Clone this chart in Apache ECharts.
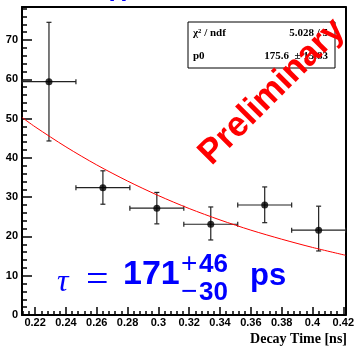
<!DOCTYPE html>
<html>
<head>
<meta charset="utf-8">
<script src="https://cdn.jsdelivr.net/npm/echarts@6/dist/echarts.min.js"></script>
<style>
  html, body { margin: 0; padding: 0; background: #fff; }
  #chart { width: 357px; height: 346px; }
</style>
</head>
<body>
<div id="chart"></div>
<script>
// decay time bins (ns)
const binCenters = [0.229, 0.264, 0.299, 0.334, 0.369, 0.404];
const binLow = [0.2115, 0.2465, 0.2815, 0.3165, 0.3515, 0.3865];
const binHigh = [0.2465, 0.2815, 0.3165, 0.3515, 0.3865, 0.4215];
const counts = [59.4, 32.4, 27.2, 23.1, 28.0, 21.6];
const countsUp = [74.5, 36.7, 31.2, 27.5, 32.6, 27.7];
const countsDown = [44.3, 28.2, 23.2, 19.1, 23.5, 16.3];

// fit curve
const fitX = [0.2115, 0.22, 0.24, 0.26, 0.28, 0.30, 0.32, 0.34, 0.36, 0.38, 0.40, 0.4215];
const fitY = [50.3, 47.9, 42.8, 38.2, 34.1, 30.4, 27.1, 24.2, 21.6, 19.3, 17.2, 15.2];

const xTickLabels = [0.22, 0.24, 0.26, 0.28, 0.30, 0.32, 0.34, 0.36, 0.38, 0.40, 0.42];
const xMinorTicks = [];
for (let i = 0; i <= 52; i++) xMinorTicks.push(+(0.212 + i * 0.004).toFixed(3));

const chart = echarts.init(document.getElementById("chart"));

const labelFont = { color: "#000", fontWeight: "bold", fontFamily: "Liberation Sans", fontSize: 11 };

const errData = binCenters.map((x, i) => [x, counts[i], binLow[i], binHigh[i], countsDown[i], countsUp[i]]);

const option = {
  animation: false,
  grid: { left: 22, right: 10, top: 7, bottom: 31 },
  xAxis: [
    {
      type: "value",
      min: 0.2115,
      max: 0.4215,
      position: "bottom",
      splitLine: { show: false },
      axisLine: { lineStyle: { color: "#000", width: 2 } },
      axisTick: { inside: true, length: 8, customValues: xTickLabels, lineStyle: { color: "#000", width: 1.5 } },
      axisLabel: Object.assign({ customValues: xTickLabels, margin: 2, formatter: (v) => String(+v.toFixed(2)) }, labelFont),
    },
    {
      type: "value",
      min: 0.2115,
      max: 0.4215,
      position: "bottom",
      splitLine: { show: false },
      axisLine: { show: false },
      axisTick: { inside: true, length: 4, customValues: xMinorTicks, lineStyle: { color: "#000", width: 1.5 } },
      axisLabel: { show: false },
    },
    {
      type: "value",
      min: 0.2115,
      max: 0.4215,
      position: "top",
      splitLine: { show: false },
      axisLine: { lineStyle: { color: "#000", width: 2 } },
      axisTick: { show: false },
      axisLabel: { show: false },
    },
  ],
  yAxis: [
    {
      type: "value",
      min: 0,
      max: 78.4,
      interval: 10,
      splitLine: { show: false },
      axisLine: { show: true, lineStyle: { color: "#000", width: 2 } },
      axisTick: { inside: true, length: 10, lineStyle: { color: "#000", width: 1.5 } },
      minorTick: { show: true, splitNumber: 5, length: 5, lineStyle: { color: "#000", width: 1.5 } },
      axisLabel: Object.assign({ margin: 4, showMaxLabel: false }, labelFont),
    },
    {
      type: "value",
      min: 0,
      max: 78.4,
      position: "right",
      splitLine: { show: false },
      axisLine: { show: true, lineStyle: { color: "#000", width: 2 } },
      axisTick: { show: false },
      axisLabel: { show: false },
    },
  ],
  series: [
    {
      type: "line",
      data: fitX.map((x, i) => [x, fitY[i]]),
      smooth: 0.3,
      symbol: "none",
      lineStyle: { color: "#ff0000", width: 1 },
      z: 4,
    },
    {
      type: "custom",
      data: errData,
      renderItem: function (params, api) {
        const y = api.value(1);
        const c = api.coord([api.value(0), y]);
        const l = api.coord([api.value(2), y]);
        const r = api.coord([api.value(3), y]);
        const b = api.coord([api.value(0), api.value(4)]);
        const t = api.coord([api.value(0), api.value(5)]);
        const cap = 2.5;
        const st = { stroke: "#222", lineWidth: 1.2 };
        const seg = (x1, y1, x2, y2) => ({ type: "line", shape: { x1, y1, x2, y2 }, style: st });
        return {
          type: "group",
          children: [
            seg(l[0], c[1], r[0], c[1]),
            seg(c[0], t[1], c[0], b[1]),
            seg(l[0], c[1] - cap, l[0], c[1] + cap),
            seg(r[0], c[1] - cap, r[0], c[1] + cap),
            seg(c[0] - cap, t[1], c[0] + cap, t[1]),
            seg(c[0] - cap, b[1], c[0] + cap, b[1]),
          ],
        };
      },
      z: 3,
    },
    {
      type: "scatter",
      data: binCenters.map((x, i) => [x, counts[i]]),
      symbol: "circle",
      symbolSize: 7,
      itemStyle: { color: "#000" },
      z: 5,
    },
  ],
  graphic: [
    {
      type: "text",
      left: 110,
      top: -18,
      style: { text: "Λ", fill: "#0000ff", font: "bold 24px Liberation Sans" },
    },
    {
      type: "rect",
      shape: { x: 188, y: 22, width: 147, height: 46 },
      style: { fill: "#fff", stroke: "#000", lineWidth: 1 },
      z: 100,
    },
    {
      type: "text",
      x: 193, y: 33,
      style: { text: "χ² / ndf", fill: "#000", font: "bold 11px Liberation Serif", verticalAlign: "middle" },
      z: 101,
    },
    {
      type: "text",
      x: 328, y: 33,
      style: { text: "5.028 / 5", fill: "#000", font: "bold 11px Liberation Serif", align: "right", verticalAlign: "middle" },
      z: 101,
    },
    {
      type: "text",
      x: 193, y: 56,
      style: { text: "p0", fill: "#000", font: "bold 11px Liberation Serif", verticalAlign: "middle" },
      z: 101,
    },
    {
      type: "text",
      x: 328, y: 56,
      style: { text: "175.6  ± 15.83", fill: "#000", font: "bold 11px Liberation Serif", align: "right", verticalAlign: "middle" },
      z: 101,
    },
    {
      type: "text",
      x: 272, y: 92,
      rotation: Math.PI / 4,
      style: { text: "Preliminary", fill: "#ff0000", font: "bold 35px Liberation Sans", align: "center", verticalAlign: "middle" },
      z: 110,
    },
    {
      type: "text",
      x: 57, y: 283,
      style: { text: "τ", fill: "#0000ff", font: "italic 32px Liberation Serif", verticalAlign: "middle" },
      z: 100,
    },
    {
      type: "text",
      x: 86, y: 281,
      style: { text: "=", fill: "#0000ff", font: "40px Liberation Serif", verticalAlign: "middle" },
      z: 100,
    },
    {
      type: "text",
      x: 123, y: 292,
      style: { text: "171", fill: "#0000ff", font: "bold 34px Liberation Sans", verticalAlign: "bottom" },
      z: 100,
    },
    {
      type: "text",
      x: 181, y: 278,
      style: { text: "+", fill: "#0000ff", font: "28px Liberation Sans", verticalAlign: "bottom" },
      z: 100,
    },
    {
      type: "text",
      x: 199, y: 278,
      style: { text: "46", fill: "#0000ff", font: "bold 26px Liberation Sans", verticalAlign: "bottom" },
      z: 100,
    },
    {
      type: "text",
      x: 181, y: 306,
      style: { text: "−", fill: "#0000ff", font: "28px Liberation Sans", verticalAlign: "bottom" },
      z: 100,
    },
    {
      type: "text",
      x: 199, y: 306,
      style: { text: "30", fill: "#0000ff", font: "bold 26px Liberation Sans", verticalAlign: "bottom" },
      z: 100,
    },
    {
      type: "text",
      x: 250, y: 292,
      style: { text: "ps", fill: "#0000ff", font: "bold 31px Liberation Sans", verticalAlign: "bottom" },
      z: 100,
    },
    {
      type: "text",
      x: 347, y: 339,
      style: { text: "Decay Time [ns]", fill: "#000", font: "bold 14px Liberation Serif", align: "right", verticalAlign: "middle" },
    },
  ],
};

chart.setOption(option);
</script>
</body>
</html>
